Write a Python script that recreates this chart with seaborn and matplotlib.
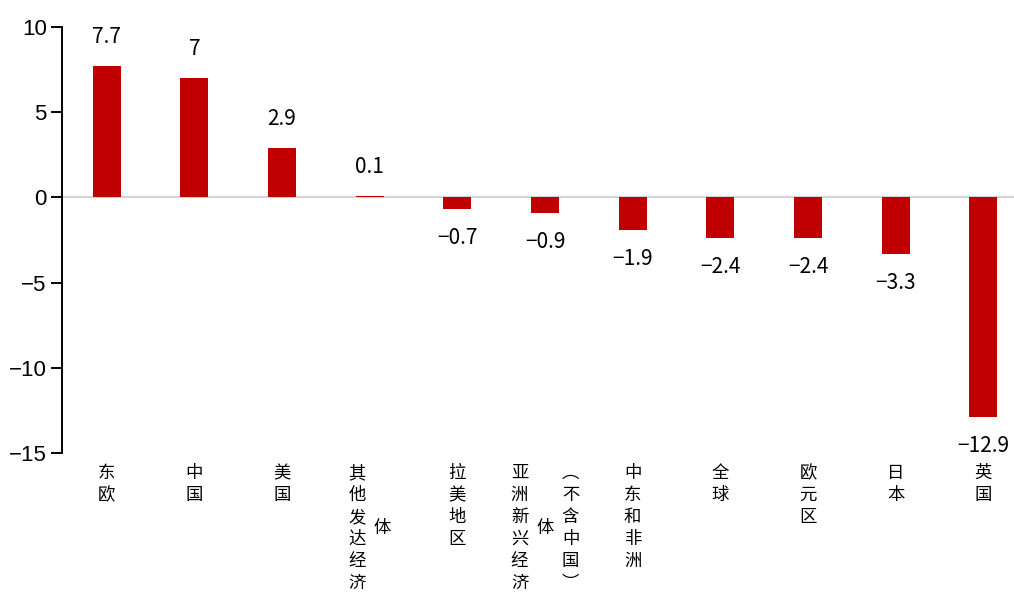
import matplotlib
matplotlib.use("Agg")
import matplotlib.pyplot as plt
import matplotlib.transforms as mtransforms
import seaborn as sns
import pandas as pd

# Region names, growth values and how each name is broken into vertical columns
categories = ["东欧", "中国", "美国", "其他发达经济体", "拉美地区",
              "亚洲新兴经济体（不含中国）", "中东和非洲", "全球", "欧元区", "日本", "英国"]
values = [7.7, 7, 2.9, 0.1, -0.7, -0.9, -1.9, -2.4, -2.4, -3.3, -12.9]
value_labels = ["7.7", "7", "2.9", "0.1", "-0.7", "-0.9", "-1.9", "-2.4", "-2.4", "-3.3", "-12.9"]
label_columns = [["东欧"], ["中国"], ["美国"], ["其他发达经济", "体"], ["拉美地区"],
                 ["亚洲新兴经济", "体", "︵不含中国︶"], ["中东和非洲"], ["全球"],
                 ["欧元区"], ["日本"], ["英国"]]
yticks = [10, 5, 0, -5, -10, -15]

sns.set_theme(style="white")
plt.rcParams["font.family"] = ["Liberation Sans", "DejaVu Sans"]
plt.rcParams["axes.unicode_minus"] = True

df = pd.DataFrame({"region": categories, "value": values})

fig = plt.figure(figsize=(10.14, 5.94), dpi=100)
ax = fig.add_axes([62 / 1014, 1 - 453 / 594, (1014 - 62) / 1014, (453 - 27) / 594])

sns.barplot(data=df, x="region", y="value", color="#C00000", saturation=1,
            width=0.32, ax=ax, order=categories, linewidth=0, zorder=2)

ax.set_xlim(-0.51, 10.35)
ax.set_ylim(-15, 10)
ax.set_yticks(yticks)
ax.set_yticklabels([str(t).replace("-", "\u2212") for t in yticks], fontsize=16)
ax.set_xticks([])
ax.set_xlabel("")
ax.set_ylabel("")

for side in ["top", "right", "bottom"]:
    ax.spines[side].set_visible(False)
ax.spines["left"].set_color("black")
ax.spines["left"].set_linewidth(1.4)
ax.tick_params(axis="y", which="major", left=True, length=8, width=1.4,
               color="black", pad=3, labelcolor="black")

ax.axhline(0, color="#D4D4D4", linewidth=1.6, zorder=1)

# Value labels above positive bars and below negative bars
for i, (v, lab) in enumerate(zip(values, value_labels)):
    off = 18 if v >= 0 else -18
    ax.annotate(lab.replace("-", "\u2212"), xy=(i, v), xytext=(0, off * 0.72),
                textcoords="offset points", ha="center",
                va="bottom" if v >= 0 else "top",
                fontsize=15, color="black",
                family=["Noto Sans CJK SC", "DejaVu Sans"])

# Category names written vertically, one character per line
trans = mtransforms.blended_transform_factory(ax.transData, ax.transAxes)
step_px = 22
col_gap_px = 25.5
top_px = 473  # centre of the first character, in figure pixels from top
for i, cols in enumerate(label_columns):
    ncol = len(cols)
    maxlen = max(len(c) for c in cols)
    for j, col in enumerate(cols):
        dx_px = (j - (ncol - 1) / 2) * col_gap_px
        start = (maxlen - len(col)) / 2
        for k, ch in enumerate(col):
            y_px = top_px + (start + k) * step_px
            off = mtransforms.offset_copy(trans, fig=fig, x=dx_px * 0.72,
                                          y=-(y_px - 453) * 0.72, units="points")
            ax.text(i, 0, ch, transform=off, ha="center", va="center",
                    fontsize=12.5, color="black",
                    family=["Noto Sans CJK SC", "DejaVu Sans"], clip_on=False)

fig.savefig("out.png", dpi=100)
